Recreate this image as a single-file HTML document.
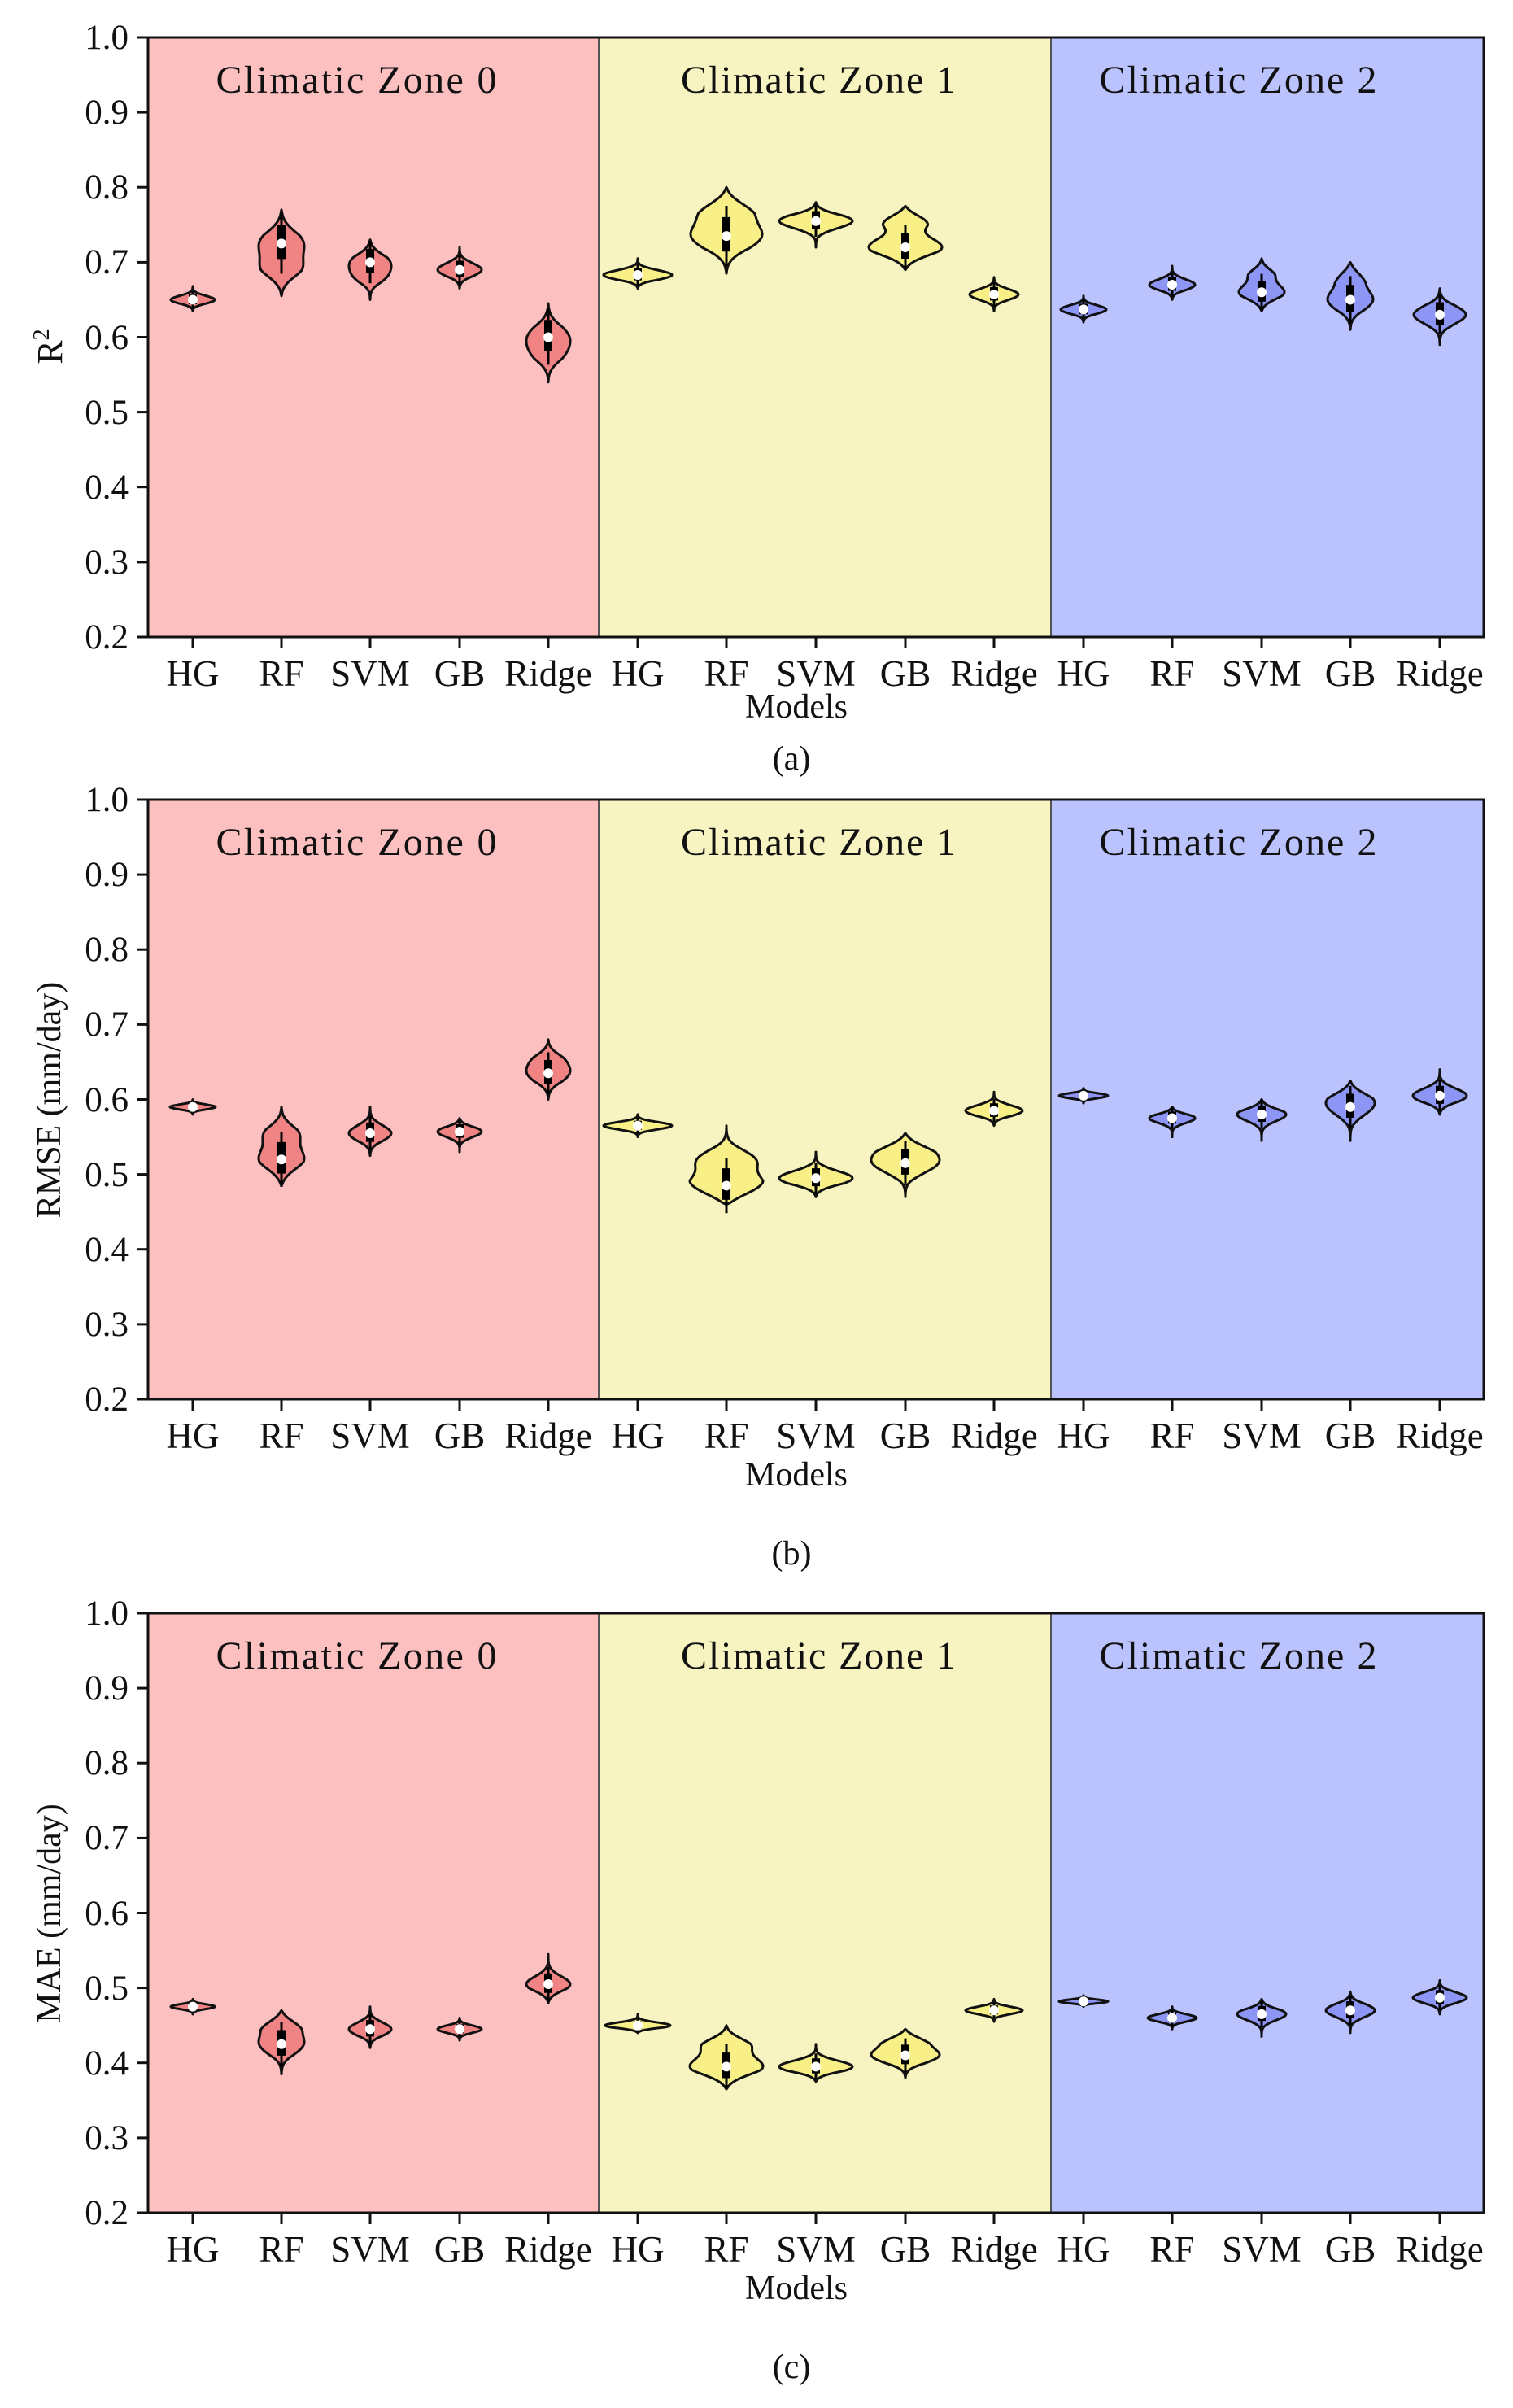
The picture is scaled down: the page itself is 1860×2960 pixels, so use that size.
<!DOCTYPE html>
<html><head><meta charset="utf-8"><style>
html,body{margin:0;padding:0;background:#fff;}
svg{display:block;font-family:"Liberation Serif",serif;}
</style></head><body>
<svg id="s" width="1860" height="2960" viewBox="0 0 1860 2960" xmlns="http://www.w3.org/2000/svg">
<defs>
<g id="frame">
  <rect x="182" y="0" width="554" height="737" fill="#fcc0c0"/>
  <rect x="736" y="0" width="556" height="737" fill="#f7f4c1"/>
  <rect x="1292" y="0" width="532" height="737" fill="#bac3fd"/>
  <line x1="736" y1="0" x2="736" y2="737" stroke="#555" stroke-width="2"/>
  <line x1="1292" y1="0" x2="1292" y2="737" stroke="#555" stroke-width="2"/>
  <rect x="182" y="0" width="1642" height="737" fill="none" stroke="#111" stroke-width="3"/>
  <g stroke="#111" stroke-width="3">
    <line x1="168" y1="0" x2="182" y2="0"/><line x1="168" y1="92.1" x2="182" y2="92.1"/>
    <line x1="168" y1="184.2" x2="182" y2="184.2"/><line x1="168" y1="276.4" x2="182" y2="276.4"/>
    <line x1="168" y1="368.5" x2="182" y2="368.5"/><line x1="168" y1="460.6" x2="182" y2="460.6"/>
    <line x1="168" y1="552.7" x2="182" y2="552.7"/><line x1="168" y1="644.9" x2="182" y2="644.9"/>
    <line x1="168" y1="737" x2="182" y2="737"/>
    <line x1="237" y1="737" x2="237" y2="751"/><line x1="346" y1="737" x2="346" y2="751"/>
    <line x1="455" y1="737" x2="455" y2="751"/><line x1="565" y1="737" x2="565" y2="751"/>
    <line x1="674" y1="737" x2="674" y2="751"/><line x1="784" y1="737" x2="784" y2="751"/>
    <line x1="893" y1="737" x2="893" y2="751"/><line x1="1003" y1="737" x2="1003" y2="751"/>
    <line x1="1113" y1="737" x2="1113" y2="751"/><line x1="1222" y1="737" x2="1222" y2="751"/>
    <line x1="1332" y1="737" x2="1332" y2="751"/><line x1="1441" y1="737" x2="1441" y2="751"/>
    <line x1="1551" y1="737" x2="1551" y2="751"/><line x1="1660" y1="737" x2="1660" y2="751"/>
    <line x1="1770" y1="737" x2="1770" y2="751"/>
  </g>
  <g font-size="43" fill="#111" text-anchor="end">
    <text x="158" y="14">1.0</text><text x="158" y="106">0.9</text><text x="158" y="198">0.8</text>
    <text x="158" y="290">0.7</text><text x="158" y="383">0.6</text><text x="158" y="475">0.5</text>
    <text x="158" y="567">0.4</text><text x="158" y="659">0.3</text><text x="158" y="751">0.2</text>
  </g>
  <g font-size="45" fill="#111" text-anchor="middle">
    <text x="237" y="797">HG</text><text x="346" y="797">RF</text><text x="455" y="797">SVM</text>
    <text x="565" y="797">GB</text><text x="674" y="797">Ridge</text>
    <text x="784" y="797">HG</text><text x="893" y="797">RF</text><text x="1003" y="797">SVM</text>
    <text x="1113" y="797">GB</text><text x="1222" y="797">Ridge</text>
    <text x="1332" y="797">HG</text><text x="1441" y="797">RF</text><text x="1551" y="797">SVM</text>
    <text x="1660" y="797">GB</text><text x="1770" y="797">Ridge</text>
  </g>
  <g font-size="48" fill="#111" text-anchor="middle">
    <text x="438" y="68" textLength="345" lengthAdjust="spacing">Climatic Zone 0</text>
    <text x="1006" y="68" textLength="338" lengthAdjust="spacing">Climatic Zone 1</text>
    <text x="1522" y="68" textLength="341" lengthAdjust="spacing">Climatic Zone 2</text>
  </g>
</g>
</defs>
<g transform="translate(0,46)">
  <use href="#frame"/>
  <text transform="translate(76,380) rotate(-90)" font-size="44" fill="#111" text-anchor="middle">R<tspan dy="-16" font-size="28">2</tspan></text>
  <text x="979" y="836" font-size="42" fill="#111" text-anchor="middle">Models</text>
  <text x="973" y="900" font-size="42" fill="#111" text-anchor="middle">(a)</text>
  <g id="va"></g>
</g>
<g transform="translate(0,983)">
  <use href="#frame"/>
  <text transform="translate(74,369) rotate(-90)" font-size="42" fill="#111" text-anchor="middle">RMSE (mm/day)</text>
  <text x="979" y="843" font-size="42" fill="#111" text-anchor="middle">Models</text>
  <text x="973" y="940" font-size="42" fill="#111" text-anchor="middle">(b)</text>
  <g id="vb"></g>
</g>
<g transform="translate(0,1983)">
  <use href="#frame"/>
  <text transform="translate(74,369) rotate(-90)" font-size="42" fill="#111" text-anchor="middle">MAE (mm/day)</text>
  <text x="979" y="843" font-size="42" fill="#111" text-anchor="middle">Models</text>
  <text x="973" y="940" font-size="42" fill="#111" text-anchor="middle">(c)</text>
  <g id="vc"></g>
</g>
</svg>
<script>
var X=[237,346,455,565,674,784,893,1003,1113,1222,1332,1441,1551,1660,1770];
var FILL=['#f08484','#f8ef86','#8e96f5'];
function Y(v){return (1-v)/0.8*737;}
var A=[[.635,.668,.65,27,0,0],[.655,.77,.725,28,.69,.8],[.65,.73,.70,26,.68,.6],[.665,.72,.69,27,0,0],[.54,.645,.60,27,.575,.5],
[.665,.705,.683,42,0,0],[.685,.80,.735,44,.77,.6],[.72,.78,.755,45,0,0],[.69,.775,.72,45,.755,.6],[.635,.68,.657,30,0,0],
[.62,.655,.637,28,0,0],[.65,.695,.67,28,0,0],[.635,.705,.66,28,.685,.5],[.61,.70,.65,28,.68,.5],[.59,.665,.63,32,0,0]];
var B=[[.58,.60,.59,28,0,0],[.485,.59,.52,28,.555,.7],[.525,.59,.555,26,0,0],[.53,.575,.557,27,0,0],[.60,.68,.635,27,.655,.5],
[.55,.58,.565,42,0,0],[.46,.565,.485,45,.52,.7],[.47,.53,.495,45,0,0],[.47,.555,.515,42,.535,.5],[.565,.61,.585,35,0,0],
[.595,.615,.605,30,0,0],[.55,.59,.575,28,0,0],[.545,.60,.58,30,0,0],[.545,.625,.59,30,.605,.5],[.58,.64,.605,33,0,0]];
var C=[[.465,.485,.475,27,0,0],[.385,.47,.425,28,.45,.7],[.42,.475,.445,26,0,0],[.43,.46,.445,27,0,0],[.48,.545,.505,27,0,0],
[.44,.465,.45,40,0,0],[.365,.45,.395,45,.425,.6],[.375,.425,.395,45,0,0],[.38,.445,.41,42,.43,.5],[.455,.485,.47,35,0,0],
[.475,.49,.482,30,0,0],[.445,.475,.46,30,0,0],[.435,.485,.465,30,0,0],[.44,.495,.47,30,0,0],[.465,.51,.487,33,0,0]];
function draw(id,D){
  var g=document.getElementById(id),h='';
  D.forEach(function(d,i){
    var lo=d[0],hi=d[1],m=d[2],w=d[3],m2=d[4],k=d[5],r=hi-lo,s=r/4.5;
    var N=60,L=[],R=[],mx=0,vals=[];
    for(var j=0;j<=N;j++){var v=lo+r*j/N;
      var p=Math.exp(-Math.pow((v-m)/s,2));
      if(m2)p+=k*Math.exp(-Math.pow((v-m2)/(s*0.8),2));
      var t=Math.min(j,N-j)/N*2; p*=Math.min(1,Math.pow(t,0.5)*1.3);
      vals.push(p);if(p>mx)mx=p;}
    for(var j=0;j<=N;j++){var v=lo+r*j/N,hw=vals[j]/mx*w,y=Y(v).toFixed(1);
      R.push((X[i]+hw).toFixed(1)+','+y);L.unshift((X[i]-hw).toFixed(1)+','+y);}
    h+='<polygon points="'+R.concat(L).join(' ')+'" fill="'+FILL[Math.floor(i/5)]+'" stroke="#111" stroke-width="3" stroke-linejoin="round"/>';
    var x=X[i];
    h+='<line x1="'+x+'" x2="'+x+'" y1="'+Y(m+r*0.35)+'" y2="'+Y(m-r*0.35)+'" stroke="#000" stroke-width="3"/>';
    h+='<line x1="'+x+'" x2="'+x+'" y1="'+Y(m+r*0.22)+'" y2="'+Y(m-r*0.18)+'" stroke="#000" stroke-width="10"/>';
    h+='<circle cx="'+x+'" cy="'+Y(m)+'" r="6" fill="#fff"/>';
  });
  g.innerHTML=h;
}
draw('va',A);draw('vb',B);draw('vc',C);
</script>
</body></html>
